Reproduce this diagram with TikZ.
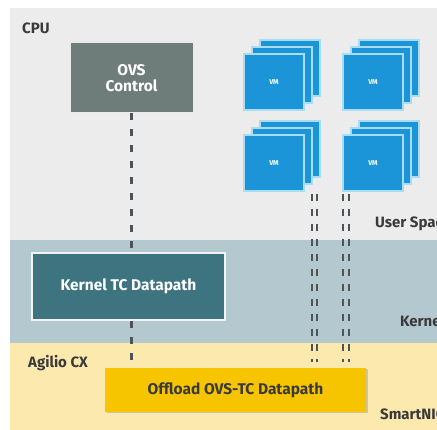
\documentclass[tikz,border=0pt]{standalone}
\usepackage{fontspec}
\setmainfont{Fira Sans}
\usetikzlibrary{shadows}
\definecolor{cpubg}{HTML}{ECECEC}
\definecolor{kernelbg}{HTML}{B3C9CF}
\definecolor{nicbg}{HTML}{FCE9AE}
\definecolor{ovsgray}{HTML}{6F7D7A}
\definecolor{kerneltc}{HTML}{3E7480}
\definecolor{offloadyel}{HTML}{F6C500}
\definecolor{vmblue}{HTML}{1B95D7}
\definecolor{vmedge}{HTML}{A9DDF5}
\definecolor{dashgray}{HTML}{4F5556}
\definecolor{labeltext}{HTML}{3A3A3A}

\begin{document}
\begin{tikzpicture}[x=1pt, y=-1pt,
		band label/.style={anchor=west, text=labeltext, inner sep=0pt, font=\fontsize{15}{17}\selectfont\bfseries},
		box label/.style={text=white, align=center, inner sep=0pt, font=\fontsize{15.5}{16}\selectfont\bfseries},
		vm layer/.style={fill=vmblue, draw=vmedge, line width=1.2pt, minimum width=60pt, minimum height=56pt, inner sep=0pt},
		path dash/.style={draw=dashgray, line width=2.2pt, dash pattern=on 7pt off 9pt}]
		\useasboundingbox (0, 0) rectangle (437, 430);
		\fill [white] (0, 0) rectangle (437, 430);
		\fill [cpubg] (10, 8) rectangle (437, 240);
		\fill [kernelbg] (10, 240) rectangle (437, 343);
		\fill [nicbg] (10, 343) rectangle (437, 430);
		\node [band label] (cpu) at (22, 28) {CPU};
		\node [band label] (userspace) at (375, 224) {User Space};
		\node [band label] (kernel) at (400, 321) {Kernel};
		\node [band label] (agilio) at (28, 363) {Agilio CX};
		\node [band label] (smartnic) at (380, 414) {SmartNIC};
		\node [box label, fill=ovsgray, draw=white!85!ovsgray, line width=1pt, minimum width=123pt, minimum height=70pt] (ovs) at (131.5, 78) {OVS\\Control};
		\node [box label, text=labeltext, fill=offloadyel, minimum width=261pt, minimum height=44pt, drop shadow={opacity=0.35, shadow xshift=1.5pt, shadow yshift=-1.5pt}] (offload) at (235.5, 390) {Offload OVS-TC Datapath};
		\draw [path dash] (ovs.south) -- (ovs.south |- offload.north);
		\node [box label, fill=kerneltc, draw=white!80!kernelbg, line width=2pt, minimum width=193pt, minimum height=67pt] (kerneltc) at (128.5, 286.5) {Kernel TC Datapath};
		\foreach \px/\py [count=\i] in {274/82, 373/82, 274/163, 373/163} {
			\foreach \k in {2, 1}
				\node [vm layer] at (\px+8*\k, \py-7*\k) {};
			\node [vm layer, text=white, font=\fontsize{7}{8}\selectfont\bfseries] (vm\i) at (\px, \py) {VM};
		}
		\foreach \dx in {312, 317, 343, 349} {
			\coordinate (top\dx) at (\dx, 194);
			\draw [path dash, line width=2pt, dash pattern=on 7pt off 8pt, shorten >=6pt] (top\dx) -- (top\dx |- offload.north);
		}
	\end{tikzpicture}
\end{document}
